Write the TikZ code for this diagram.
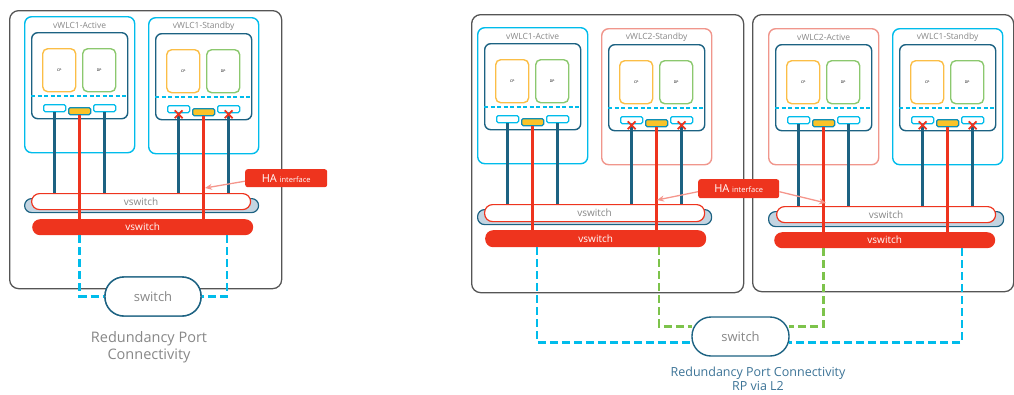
\documentclass[tikz,border=0pt]{standalone}
\usepackage{fontspec}
\setmainfont{Open Sans}
\usetikzlibrary{positioning,shapes.misc,arrows.meta}

\definecolor{ciscocyan}{RGB}{0,188,235}
\definecolor{ciscoteal}{RGB}{28,98,130}
\definecolor{ciscored}{RGB}{238,52,30}
\definecolor{salmon}{RGB}{240,150,140}
\definecolor{cporange}{RGB}{251,190,70}
\definecolor{dpgreen}{RGB}{140,200,110}
\definecolor{portyellow}{RGB}{250,195,40}
\definecolor{boxgray}{RGB}{85,85,85}
\definecolor{txtgray}{RGB}{135,135,135}
\definecolor{shadowblue}{RGB}{195,212,225}
\definecolor{hapink}{RGB}{245,150,140}
\definecolor{rpgreenc}{RGB}{125,195,75}
\definecolor{captionblue}{RGB}{60,115,150}

% one controller: name, x, y, title, colour
\newcommand{\vwlc}[5]{%
  \node[wlcbox,draw=#5] (#1) at (#2,#3) {};
  \node[wlctitle] at ([yshift=-9pt]#1.north) {#4};
  \node[vmbox] (#1vm) at ([shift={(7pt,-16pt)}]#1.north west) {};
  \node[cpbox] (#1cp) at ([shift={(18pt,-32pt)}]#1.north west) {CP};
  \node[dpbox] (#1dp) at ([shift={(58pt,-32pt)}]#1.north west) {DP};
  \draw[sepline] ([yshift=-64pt]#1vm.north west) -- ([yshift=-64pt]#1vm.north east);
  \node[port] (#1p1) at ([shift={(19pt,-88pt)}]#1.north west) {};
  \node[rport] (#1p2) at ([shift={(44pt,-91pt)}]#1.north west) {};
  \node[port] (#1p3) at ([shift={(69pt,-88pt)}]#1.north west) {};
}

\begin{document}
\begin{tikzpicture}[x=1pt,y=-1pt,
  server/.style={draw=boxgray,line width=1.3pt,rounded corners=9pt,anchor=north west,inner sep=0},
  wlcbox/.style={line width=1.4pt,rounded corners=7pt,minimum width=110pt,minimum height=136pt,anchor=north west,inner sep=0},
  wlctitle/.style={text=txtgray,font=\fontsize{8.5}{9}\selectfont},
  vmbox/.style={draw=ciscoteal,line width=1.4pt,rounded corners=6pt,minimum width=96pt,minimum height=86pt,anchor=north west,inner sep=0},
  cpbox/.style={draw=cporange,line width=1.4pt,rounded corners=5pt,minimum width=33pt,minimum height=43pt,anchor=north west,inner sep=0,font=\fontsize{3.5}{4}\selectfont},
  dpbox/.style={cpbox,draw=dpgreen},
  sepline/.style={draw=ciscocyan,line width=1.3pt,dash pattern=on 4pt off 2.5pt},
  port/.style={draw=ciscocyan,fill=white,line width=1.3pt,rounded corners=1.5pt,minimum width=22pt,minimum height=7pt,anchor=north west,inner sep=0},
  rport/.style={port,draw=ciscocyan!50!ciscoteal,fill=portyellow},
  xmark/.style={cross out,draw=ciscored,line width=1.8pt,minimum size=6pt,inner sep=0},
  tealline/.style={draw=ciscoteal,line width=2.5pt},
  redline/.style={draw=ciscored,line width=2.5pt},
  vshadow/.style={draw=ciscoteal,fill=shadowblue,line width=1.2pt,rounded corners=7pt,anchor=north west,inner sep=0},
  vswitch/.style={draw=ciscored,fill=white,line width=1.2pt,rounded corners=8pt,anchor=north west,inner sep=0,text=txtgray,font=\fontsize{10}{10}\selectfont},
  rswitch/.style={fill=ciscored,rounded corners=8pt,anchor=north west,inner sep=0,text=white,font=\fontsize{10}{10}\selectfont},
  halabel/.style={fill=ciscored,rounded corners=2.5pt,anchor=north west,inner sep=0,text=white,font=\fontsize{11}{12}\selectfont},
  haarrow/.style={-{Stealth[length=7pt,width=6pt]},draw=hapink,line width=1.3pt},
  rpcyan/.style={draw=ciscocyan,line width=2.8pt,dash pattern=on 8pt off 4pt},
  rpgreen/.style={rpcyan,draw=rpgreenc},
  switchbox/.style={draw=ciscoteal,fill=white,line width=1.4pt,rounded corners=19pt,minimum width=97pt,minimum height=39pt,inner sep=0,text=txtgray,font=\fontsize{13}{14}\selectfont},
  caption/.style={align=center,text=txtgray}]
\useasboundingbox (0,0) rectangle (1014,394);

% left: one host
\node[server,minimum width=272pt,minimum height=278pt] (L) at (9,10) {};
\vwlc{LA}{24}{16}{vWLC1-Active}{ciscocyan}
\vwlc{LS}{148}{17}{vWLC1-Standby}{ciscocyan}
\node[vshadow,minimum width=234pt,minimum height=14pt] (Lsh) at (24,198) {};
\node[vswitch,minimum width=219pt,minimum height=16pt] (Lvs) at (31,193) {vswitch};
\node[rswitch,minimum width=221pt,minimum height=16pt] (Lrs) at (32,219) {vswitch};
\foreach \w in {LA,LS} {
  \draw[tealline] (\w p1.south) -- (\w p1.south |- Lvs.north);
  \draw[tealline] (\w p3.south) -- (\w p3.south |- Lvs.north);
  \draw[redline] (\w p2.south) -- (\w p2.south |- Lrs.north);
}
\node[xmark] at ([yshift=-1pt]LSp1.south) {};
\node[xmark] at ([yshift=-1pt]LSp3.south) {};
\node[halabel,minimum width=82pt,minimum height=18pt] (Lha) at (245,169) {HA {\fontsize{7.5}{8}\selectfont interface}};
\coordinate (Lhat) at (205,188);
\draw[haarrow] ([yshift=-3pt]Lha.west) -- (Lhat);
\node[switchbox,minimum width=96pt] (Lsw) at (153,296.5) {};
\draw[rpcyan] (LAp2 |- Lrs.south) |- (Lsw.west);
\draw[rpcyan] ([xshift=195pt]Lrs.south west) |- (Lsw.east);
\node[switchbox,minimum width=96pt] at (Lsw) {switch};
\node[caption,font=\fontsize{14.5}{16.5}\selectfont] (Lcap) at (149,347) {Redundancy Port\\Connectivity};

% right: two hosts
\node[server,minimum width=272pt,minimum height=278pt] (R1) at (471,14) {};
\node[server,minimum width=261pt,minimum height=277pt] (R2) at (752,14) {};
\vwlc{RAa}{477}{27}{vWLC1-Active}{ciscocyan}
\vwlc{RSb}{601}{28}{vWLC2-Standby}{salmon}
\vwlc{RAb}{768}{28}{vWLC2-Active}{salmon}
\vwlc{RSa}{892}{28}{vWLC1-Standby}{ciscocyan}
\node[vshadow,minimum width=234pt,minimum height=15pt] (R1sh) at (477,209) {};
\node[vswitch,minimum width=220pt,minimum height=17pt] (R1vs) at (484,204) {vswitch};
\node[rswitch,minimum width=221pt,minimum height=17pt] (R1rs) at (485,230) {vswitch};
\node[vshadow,minimum width=235pt,minimum height=15pt] (R2sh) at (768,211) {};
\node[vswitch,minimum width=219pt,minimum height=16pt] (R2vs) at (776,206) {vswitch};
\node[rswitch,minimum width=221pt,minimum height=16pt] (R2rs) at (774,232) {vswitch};
\foreach \w in {RAa,RSb} {
  \draw[tealline] (\w p1.south) -- (\w p1.south |- R1vs.north);
  \draw[tealline] (\w p3.south) -- (\w p3.south |- R1vs.north);
  \draw[redline] (\w p2.south) -- (\w p2.south |- R1rs.north);
}
\foreach \w in {RAb,RSa} {
  \draw[tealline] (\w p1.south) -- (\w p1.south |- R2vs.north);
  \draw[tealline] (\w p3.south) -- (\w p3.south |- R2vs.north);
  \draw[redline] (\w p2.south) -- (\w p2.south |- R2rs.north);
}
\foreach \w in {RSb,RSa} {
  \node[xmark] at ([yshift=-1pt]\w p1.south) {};
  \node[xmark] at ([yshift=-1pt]\w p3.south) {};
}
\node[halabel,minimum width=81pt,minimum height=19pt] (Rha) at (698,179) {HA {\fontsize{7.5}{8}\selectfont interface}};
\coordinate (Rhat1) at (657,200);
\coordinate (Rhat2) at (826,203);
\draw[haarrow] ([yshift=-3pt]Rha.west) -- (Rhat1);
\draw[haarrow] ([yshift=-3pt]Rha.east) -- (Rhat2);
\coordinate (Rsw) at (740.5,336.5);
\draw[rpcyan] ([xshift=52pt]R1rs.south west) |- ([yshift=-6pt]Rsw -| 692,0);
\draw[rpgreen] ([xshift=174pt]R1rs.south west) |- ([yshift=10pt]Rsw -| 692,0);
\draw[rpgreen] (RAbp2 |- R2rs.south) |- ([yshift=10pt]Rsw -| 789,0);
\draw[rpcyan] ([xshift=188pt]R2rs.south west) |- ([yshift=-6pt]Rsw -| 789,0);
\node[switchbox] (Rswn) at (Rsw) {switch};
\node[caption,text=captionblue,font=\fontsize{12.5}{14.5}\selectfont] (Rcap) at (758,379) {Redundancy Port Connectivity\\RP via L2};
\end{tikzpicture}
\end{document}
